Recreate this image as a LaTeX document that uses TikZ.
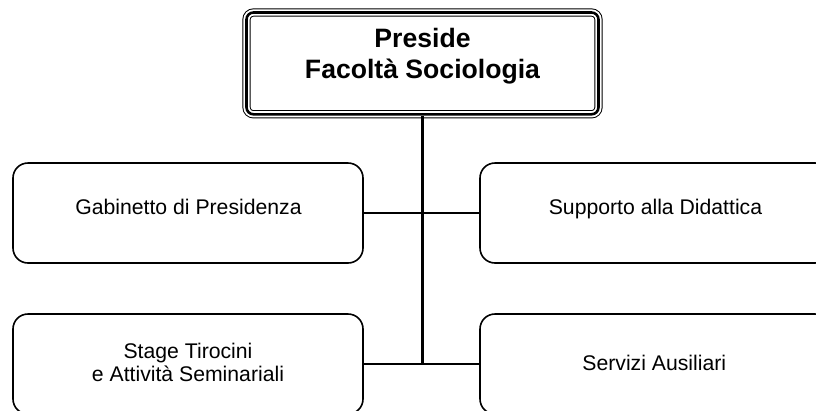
\documentclass[tikz,border=0pt]{standalone}
\usepackage{fontspec}
\setmainfont{Liberation Sans}
\begin{document}
\begin{tikzpicture}[x=1pt,y=-1pt,
  unit/.style={draw, line width=1.6pt, rounded corners=15pt,
    minimum width=350pt, minimum height=100pt, inner sep=0pt},
  head/.style={draw, line width=2.6pt, rounded corners=7pt,
    minimum width=352pt, minimum height=101.8pt, inner sep=0pt,
    preaction={draw, line width=1pt, double=white, double distance=6.2pt}},
  lab/.style={font=\fontsize{21.2}{23}\selectfont, align=center, inner sep=0pt},
  headlab/.style={font=\bfseries\fontsize{26.6}{31}\selectfont, align=center, inner sep=0pt},
  conn/.style={line width=2.8pt}]
\useasboundingbox (0,0) rectangle (816,410);
\clip (0,0) rectangle (816,410);
\fill[white] (0,0) rectangle (816,410);

% boxes
\node[head] (preside) at (422.5,63.4) {};
\node[unit] (gab) at (188,213) {};
\node[unit] (sup) at (655,213) {};
\node[unit] (stage) at (188,364) {};
\node[unit] (serv) at (655,364) {};

% labels
\node[headlab] (presidet) at (422.5,55.8) {Preside\\Facoltà Sociologia};
\node[lab, anchor=base] (gabt) at (188.5,214) {Gabinetto di Presidenza};
\node[lab, anchor=base] (supt) at (655.5,214) {Supporto alla Didattica};
\node[lab] (staget) at (188,362.7) {Stage Tirocini\\e Attività Seminariali};
\node[lab, anchor=base] (servt) at (654.3,370) {Servizi Ausiliari};

% connectors
\coordinate (low) at (preside.south |- stage.east);
\draw[conn] (preside.south) -- (low);
\draw[conn] (gab.east) -- (sup.west);
\draw[conn] (stage.east) -- (serv.west);
\end{tikzpicture}
\end{document}
